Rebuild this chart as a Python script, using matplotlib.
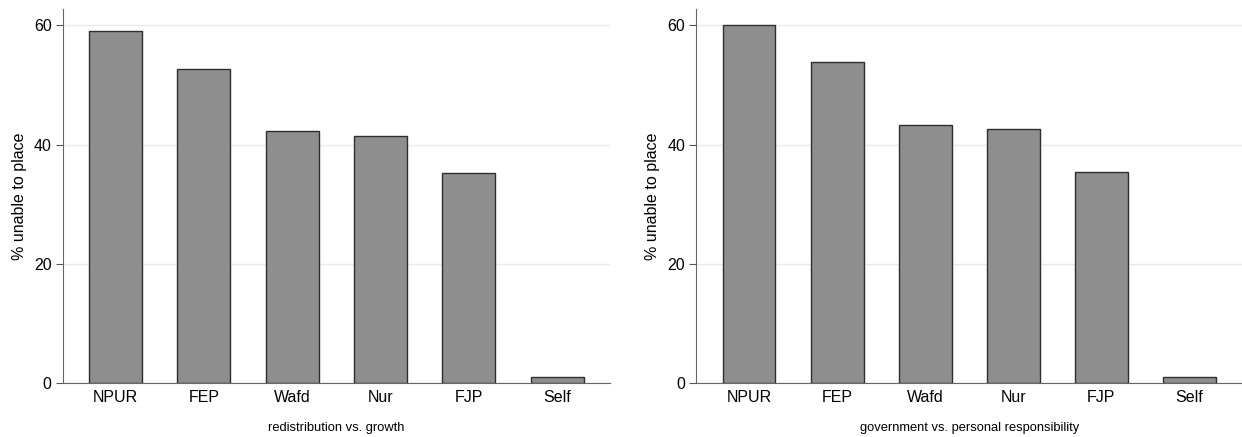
import matplotlib.pyplot as plt

# parti-etiketter og verdier (% som ikke kan plassere partiet)
partier = ['NPUR', 'FEP', 'Wafd', 'Nur', 'FJP', 'Self']
omfordeling = [59.0, 52.6, 42.2, 41.5, 35.3, 1.1]
ansvar = [60.0, 53.9, 43.3, 42.6, 35.4, 1.0]

plt.rcParams['font.family'] = ['Liberation Sans', 'DejaVu Sans']

fig = plt.figure(figsize=(12.42, 4.37), dpi=100)
ax1 = fig.add_axes([0.0505, 0.1229, 0.4407, 0.8565])
ax2 = fig.add_axes([0.5606, 0.1229, 0.4394, 0.8565])

for ax, verdier, tittel in [(ax1, omfordeling, 'redistribution vs. growth'),
                            (ax2, ansvar, 'government vs. personal responsibility')]:
    x = range(len(partier))
    ax.bar(x, verdier, width=0.6, color='#8e8e8e', edgecolor='#2e2e2e', linewidth=1.0, zorder=3)
    ax.set_xlim(-0.6, 5.6)
    ax.set_ylim(0, 62.7)
    ax.set_yticks([0, 20, 40, 60])
    ax.set_xticks(list(x))
    ax.set_xticklabels(partier, fontsize=11.5)
    ax.tick_params(axis='y', labelsize=11.5, length=5, width=0.8, color='#555555', pad=3)
    ax.tick_params(axis='x', length=0, pad=5)
    ax.grid(axis='y', color='#eaeaea', linewidth=1.0, zorder=0)
    for s in ['top', 'right']:
        ax.spines[s].set_visible(False)
    for s in ['left', 'bottom']:
        ax.spines[s].set_color('#666666')
        ax.spines[s].set_linewidth(0.8)
    ax.set_ylabel('% unable to place', fontsize=11.5, labelpad=5)
    ax.set_xlabel(tittel, fontsize=9.3, labelpad=12)

fig.savefig('out.png', dpi=100)
